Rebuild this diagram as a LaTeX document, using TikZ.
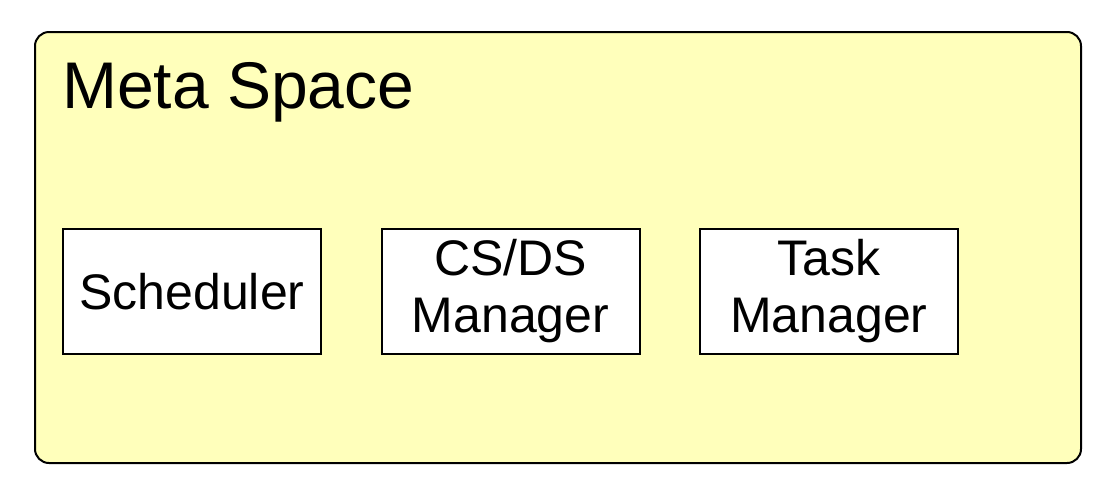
\documentclass[tikz,border=0pt]{standalone}
\usepackage{fontspec}
\setmainfont{Liberation Sans}
\usetikzlibrary{positioning}
\definecolor{metayellow}{HTML}{FFFFBB}

\begin{document}
\begin{tikzpicture}[
    x=1pt, y=-1pt,
    node distance=58.5pt,
    every node/.style={align=center},
    space/.style={
      rectangle, draw, line width=2pt, rounded corners=14pt,
      minimum width=1046pt, minimum height=431pt,
      fill=metayellow, inner sep=0pt
    },
    module/.style={
      rectangle, draw, line width=2pt,
      minimum width=258pt, minimum height=125pt,
      fill=white, inner sep=0pt,
      font=\fontsize{50}{57}\selectfont
    },
  ]
  \useasboundingbox (0,0) rectangle (1108,491);

  % --- Outer space ---
  \node[space, anchor=north west] (meta) at (34,31) {};
  \node[anchor=base west, inner sep=0pt, font=\fontsize{66}{70}\selectfont]
    (title) at (62,108) {Meta Space};

  % --- Modules ---
  \node[module, anchor=north west] (sched) at (62,228) {Scheduler};
  \node[module, right=of sched] (csds) {CS/DS\\Manager};
  \node[module, right=of csds] (task) {Task\\Manager};
\end{tikzpicture}
\end{document}
